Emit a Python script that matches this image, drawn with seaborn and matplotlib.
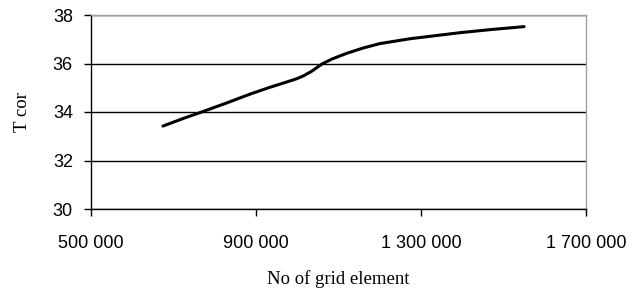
import matplotlib
matplotlib.use("Agg")
import matplotlib.pyplot as plt
import matplotlib.ticker as mticker
import seaborn as sns
import pandas as pd

grid_elements = [674500, 723000, 770000, 830000, 886000, 934000, 975000, 1000000, 1015000,
                 1035000, 1060000, 1085000, 1120000, 1160000, 1200000, 1273000, 1394000,
                 1470000, 1550000]
t_cor = [33.42, 33.73, 34.01, 34.38, 34.74, 35.02, 35.24, 35.38, 35.49,
         35.68, 35.98, 36.19, 36.42, 36.64, 36.82, 37.02, 37.27,
         37.40, 37.52]
x_ticks = [500000, 900000, 1300000, 1700000]
y_ticks = [30, 32, 34, 36, 38]

sns.set_theme(style="white")
plt.rcParams['font.family'] = ['Liberation Sans', 'DejaVu Sans']

df = pd.DataFrame({"x": grid_elements, "y": t_cor})

fig = plt.figure(figsize=(6.33, 2.95), dpi=100)
ax = fig.add_axes([91/633, 1-209/295, 495/633, 194/295])
sns.lineplot(data=df, x="x", y="y", ax=ax, color="black", linewidth=2.2)

ax.set_xlim(500000, 1700000)
ax.set_ylim(30, 38)
ax.set_xticks(x_ticks)
ax.set_yticks(y_ticks)
ax.xaxis.set_major_formatter(mticker.FuncFormatter(lambda v, p: f"{int(v):,}".replace(",", " ")))
ax.grid(axis="y", color="black", linewidth=1)
ax.set_axisbelow(True)

for s in ["left", "bottom"]:
    ax.spines[s].set_color("black")
    ax.spines[s].set_linewidth(1)
for s in ["top", "right"]:
    ax.spines[s].set_color("#a0a0a0")
    ax.spines[s].set_linewidth(1)

ax.tick_params(axis="both", which="major", direction="out", length=5, width=1,
               color="black", labelsize=13, labelcolor="black", bottom=True, left=True)
ax.tick_params(axis="x", pad=14)
ax.tick_params(axis="y", pad=8)

ax.set_xlabel("No of grid element", fontsize=13.5, family=["Liberation Serif"], color="black", labelpad=13)
ax.set_ylabel("T cor", fontsize=13.5, family=["Liberation Serif"], color="black", labelpad=16)

fig.savefig("out.png", dpi=100)
